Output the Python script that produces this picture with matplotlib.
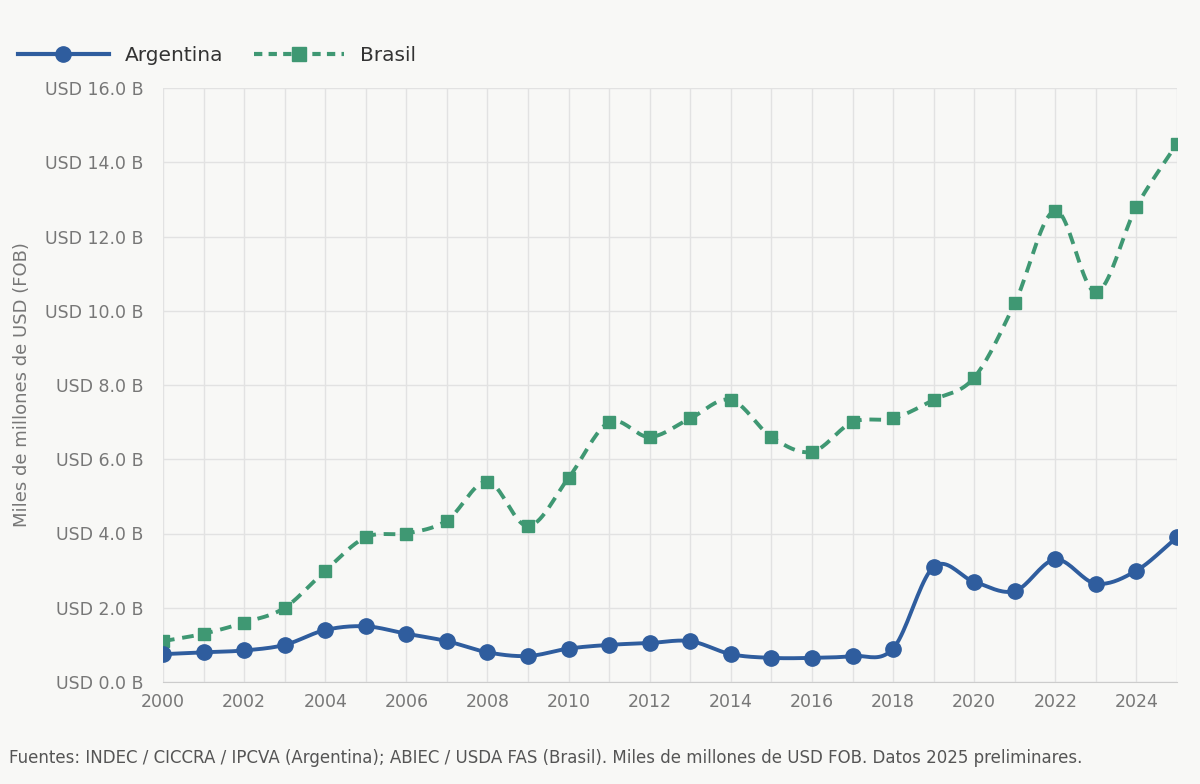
import numpy as np
import matplotlib
matplotlib.use("Agg")
import matplotlib.pyplot as plt

years = list(range(2000, 2026))
argentina = [0.75, 0.8, 0.85, 1.0, 1.4, 1.5, 1.3, 1.1, 0.8, 0.7, 0.9, 1.0, 1.05, 1.1,
             0.75, 0.65, 0.65, 0.7, 0.9, 3.1, 2.7, 2.45, 3.3, 2.65, 3.0, 3.9]
brasil = [1.1, 1.3, 1.6, 2.0, 3.0, 3.9, 4.0, 4.35, 5.4, 4.2, 5.5, 7.0, 6.6, 7.1,
          7.6, 6.6, 6.2, 7.0, 7.1, 7.6, 8.2, 10.2, 12.7, 10.5, 12.8, 14.5]
yticks = [0, 2, 4, 6, 8, 10, 12, 14, 16]

def catmull(x, y, n=20):
    x = np.asarray(x, float); y = np.asarray(y, float)
    px = np.concatenate([[2*x[0]-x[1]], x, [2*x[-1]-x[-2]]])
    py = np.concatenate([[2*y[0]-y[1]], y, [2*y[-1]-y[-2]]])
    xs, ys = [], []
    t = np.linspace(0, 1, n, endpoint=False)
    for i in range(1, len(px)-2):
        for arr, out in ((px, xs), (py, ys)):
            p0, p1, p2, p3 = arr[i-1], arr[i], arr[i+1], arr[i+2]
            out.extend(0.5*((2*p1) + (-p0+p2)*t + (2*p0-5*p1+4*p2-p3)*t**2 + (-p0+3*p1-3*p2+p3)*t**3))
    xs.append(x[-1]); ys.append(y[-1])
    return np.array(xs), np.array(ys)

bg = "#f8f8f6"
blue = "#2f5d9e"
green = "#3f9873"
fig = plt.figure(figsize=(12, 7.84), dpi=100, facecolor=bg)
ax = fig.add_axes([163/1200, 1-682/784, (1177-163)/1200, (682-88)/784], facecolor=bg)

ax.plot(*catmull(years, brasil), color=green, lw=2.8, ls=(0, (3, 2)))
ax.plot(years, brasil, ls="none", marker="s", ms=9, color=green)
ax.plot(*catmull(years, argentina), color=blue, lw=2.8)
ax.plot(years, argentina, ls="none", marker="o", ms=11, color=blue)

ax.set_xlim(2000, 2025)
ax.set_ylim(0, 16)
ax.set_xticks(range(2000, 2025, 2))
ax.set_xticks(range(2000, 2026), minor=True)
ax.set_yticks(yticks)
ax.set_yticklabels([f"USD {v:.1f} B" for v in yticks])
ax.grid(True, which="both", axis="x", color="#e2e2e2", lw=1)
ax.grid(True, axis="y", color="#e2e2e2", lw=1)
ax.set_axisbelow(True)
for s in ax.spines.values():
    s.set_visible(False)
ax.spines["bottom"].set_visible(True)
ax.spines["bottom"].set_color("#cccccc")
ax.tick_params(which="both", length=0, labelsize=12.5, colors="#777777", pad=8)
ax.tick_params(axis="y", pad=14)
ax.set_ylabel("Miles de millones de USD (FOB)", fontsize=13, color="#777777", labelpad=10)

from matplotlib.lines import Line2D
h = [Line2D([], [], color=blue, lw=3, marker="o", ms=11, markevery=[1]),
     Line2D([], [], color=green, lw=3, ls=(0, (2, 1.5)), marker="s", ms=10, markevery=[1])]
fig.legend(h, ["Argentina", "Brasil"], loc="upper left", bbox_to_anchor=(0.0, 0.965),
           ncol=2, frameon=False, fontsize=14.5, handlelength=4.5, columnspacing=1.5,
           labelcolor="#333333")
fig.text(9/1200, 1-758/784, "Fuentes: INDEC / CICCRA / IPCVA (Argentina); ABIEC / USDA FAS (Brasil). Miles de millones de USD FOB. Datos 2025 preliminares.",
         fontsize=12, color="#555555", va="center")
fig.savefig("out.png", dpi=100, facecolor=bg)
